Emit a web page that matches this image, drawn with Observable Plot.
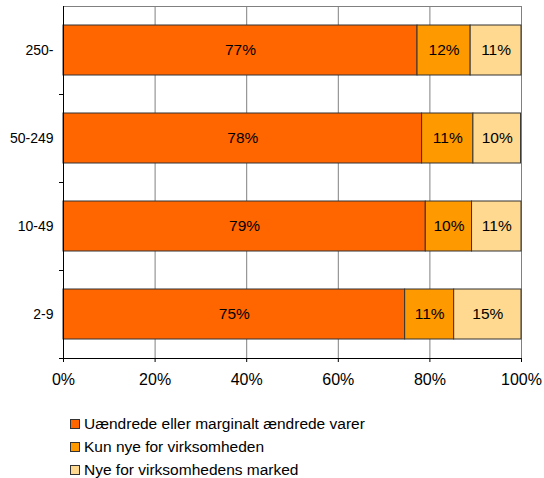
<!DOCTYPE html>
<html><head><meta charset="utf-8">
<script src="https://cdn.jsdelivr.net/npm/d3@7"></script>
<script src="https://cdn.jsdelivr.net/npm/@observablehq/plot@0.6"></script>
<style>
body{margin:0;background:#fff;font-family:"Liberation Sans",Arial,sans-serif;}
#chart svg{display:block}
#legend{margin:12px 0 0 70px;font-size:15.5px;color:#000;line-height:1}
.item{display:flex;align-items:center;height:23px}
.sw{width:8px;height:8px;border:1px solid #333;margin-right:4px;flex:none}
</style></head><body><div id="chart"></div><div id="legend"></div>
<script>
const categories = ["250-", "50-249", "10-49", "2-9"];
const seriesNames = ["Uændrede eller marginalt ændrede varer", "Kun nye for virksomheden", "Nye for virksomhedens marked"];
const colors = ["#FF6600", "#FF9900", "#FFD98F"];
const unchanged = [77.3, 78.3, 79.1, 74.6];
const newFirm = [11.6, 11.2, 10.1, 10.7];
const newMarket = [11.1, 10.4, 10.8, 14.7];
const xTicks = [0, 20, 40, 60, 80, 100];

const series = [unchanged, newFirm, newMarket];
const data = [];
categories.forEach((c, i) => series.forEach((s, j) => data.push({cat: c, series: seriesNames[j], value: s[i]})));

const chart = Plot.plot({
  width: 544, height: 400,
  marginLeft: 63, marginRight: 23, marginTop: 6, marginBottom: 42,
  style: {fontFamily: "Liberation Sans, Arial, sans-serif", background: "#fff", color: "#000"},
  x: {domain: [0, 100], label: null},
  y: {domain: categories, paddingInner: 0.432, paddingOuter: 0.216, label: null},
  color: {domain: seriesNames, range: colors},
  marks: [
    Plot.gridX(xTicks, {stroke: "#808080", strokeOpacity: 1, strokeWidth: 1}),
    Plot.frame({anchor: "top", stroke: "#808080"}),
    Plot.barX(data, Plot.stackX({x: "value", y: "cat", z: "series", fill: "series", order: seriesNames, stroke: "#333", strokeWidth: 1})),
    Plot.text(data, Plot.stackX({x: "value", y: "cat", z: "series", order: seriesNames, text: d => Math.round(d.value) + "%", fontSize: 15.5, fill: "#000"})),
    Plot.frame({anchor: "bottom", stroke: "#000"}),
    Plot.frame({anchor: "left", stroke: "#000"}),
    Plot.axisX(xTicks, {tickSize: 4, tickPadding: 11, tickFormat: d => d + "%", fontSize: 16, stroke: "#000", label: null}),
    Plot.axisY({tickSize: 0, tickPadding: 10, fontSize: 14, label: null}),
    Plot.axisY({tickSize: 4, tickFormat: () => "", dy: 44, stroke: "#000", label: null})
  ]
});
document.getElementById("chart").append(chart);

const legend = document.getElementById("legend");
seriesNames.forEach((n, i) => {
  const it = document.createElement("div"); it.className = "item";
  const sw = document.createElement("span"); sw.className = "sw"; sw.style.background = colors[i];
  const t = document.createElement("span"); t.textContent = n;
  it.append(sw, t); legend.append(it);
});
</script></body></html>
